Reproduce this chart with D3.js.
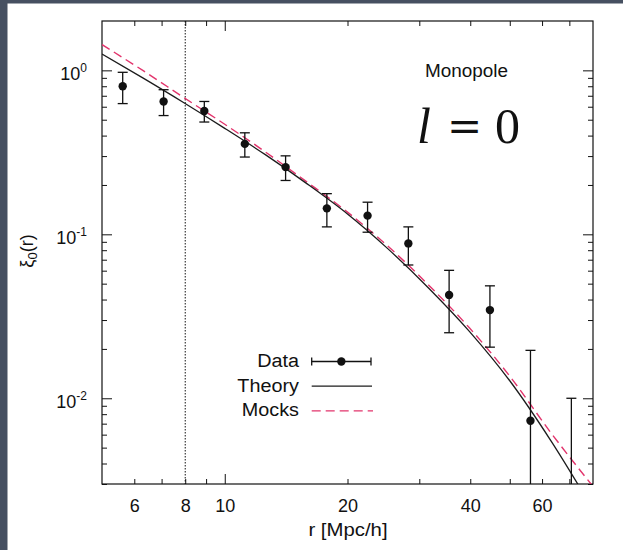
<!DOCTYPE html>
<html>
<head>
<meta charset="utf-8">
<script src="https://cdn.jsdelivr.net/npm/d3@7/dist/d3.min.js"></script>
<style>
  html, body { margin: 0; padding: 0; background: #ffffff; }
  svg { display: block; }
  text { font-family: "Liberation Sans", Arial, Helvetica, sans-serif; fill: #111; }
</style>
</head>
<body>
<svg id="chart" width="623" height="550"></svg>
<script>
// Measured monopole of the correlation function, binned in log r
const rBins   = [5.62, 7.08, 8.91, 11.2, 14.1, 17.8, 22.4, 28.2, 35.5, 44.7, 56.2, 70.8];
const xiData  = [0.80, 0.646, 0.565, 0.356, 0.257, 0.144, 0.130, 0.088, 0.0427, 0.0345, 0.0073, -0.002];
const xiSigma = [0.173, 0.116, 0.081, 0.060, 0.044, 0.033, 0.027, 0.023, 0.0176, 0.014, 0.0123, 0.012];

// Model curves sampled on a log-spaced grid in r
const rModel   = [5, 6.31, 7.94, 10, 12.6, 15.8, 20, 25.1, 31.6, 39.8, 50.1, 63.1, 80];
const xiTheory = [1.259, 0.897, 0.635, 0.443, 0.305, 0.206, 0.133, 0.0818, 0.0471, 0.0256, 0.0127, 0.0055, 0.0021];
const xiMocks  = [1.436, 0.995, 0.682, 0.469, 0.317, 0.211, 0.1365, 0.0849, 0.0491, 0.0269, 0.01355, 0.00615, 0.0029];

// Axis ticks
const xMinorTicks = [6, 7, 8, 9, 20, 30, 40, 50, 60, 70];
const xMajorTicks = [10];
const xTickLabels = [6, 8, 10, 20, 40, 60];
const yMajorTicks = [0.01, 0.1, 1];
const yMinorTicks = [0.003, 0.004, 0.005, 0.006, 0.007, 0.008, 0.009,
                     0.02, 0.03, 0.04, 0.05, 0.06, 0.07, 0.08, 0.09,
                     0.2, 0.3, 0.4, 0.5, 0.6, 0.7, 0.8, 0.9];
const rCut = 8;   // small-scale cut

const legendItems = ["Data", "Theory", "Mocks"];

const W = 623, H = 550;
const plot = { left: 102, top: 21, right: 593, bottom: 484 };

const svg = d3.select("#chart");

// slide frame
svg.append("rect").attr("x", 0).attr("y", 0).attr("width", W).attr("height", H).attr("fill", "#ffffff");
svg.append("rect").attr("x", 0).attr("y", 0).attr("width", W).attr("height", 3.5).attr("fill", "#465061");
svg.append("rect").attr("x", 0).attr("y", 0).attr("width", 7.5).attr("height", H).attr("fill", "#465061");

const x = d3.scaleLog().domain([5, 80]).range([plot.left, plot.right]);
const y = d3.scaleLog().domain([0.003, 2]).range([plot.bottom, plot.top]);

svg.append("defs").append("clipPath").attr("id", "plotClip")
  .append("rect")
  .attr("x", plot.left).attr("y", plot.top)
  .attr("width", plot.right - plot.left).attr("height", plot.bottom - plot.top);

function stretch(sel, k) {
  sel.each(function () {
    const w = this.getComputedTextLength();
    d3.select(this).attr("textLength", w * k).attr("lengthAdjust", "spacingAndGlyphs");
  });
}

function cleanAxis(g) {
  g.select(".domain").remove();
  g.selectAll(".tick line").attr("stroke", "#111").attr("stroke-width", 1);
}

// inward ticks on all four sides
function tickAxis(axisFn, scale, values, size, transform) {
  svg.append("g").attr("transform", transform)
    .call(axisFn(scale).tickValues(values).tickSize(-size).tickFormat(""))
    .call(cleanAxis);
}
tickAxis(d3.axisBottom, x, xMinorTicks, 5, `translate(0,${plot.bottom})`);
tickAxis(d3.axisBottom, x, xMajorTicks, 10, `translate(0,${plot.bottom})`);
tickAxis(d3.axisTop, x, xMinorTicks, 5, `translate(0,${plot.top})`);
tickAxis(d3.axisTop, x, xMajorTicks, 10, `translate(0,${plot.top})`);
tickAxis(d3.axisLeft, y, yMinorTicks, 5, `translate(${plot.left},0)`);
tickAxis(d3.axisLeft, y, yMajorTicks, 10, `translate(${plot.left},0)`);
tickAxis(d3.axisRight, y, yMinorTicks, 5, `translate(${plot.right},0)`);
tickAxis(d3.axisRight, y, yMajorTicks, 10, `translate(${plot.right},0)`);

// x tick labels
const gxl = svg.append("g").attr("transform", `translate(0,${plot.bottom})`)
  .call(d3.axisBottom(x).tickValues(xTickLabels).tickSize(0).tickPadding(15).tickFormat(d3.format("d")));
gxl.select(".domain").remove();
gxl.selectAll("text").attr("font-size", 18).attr("fill", "#111")
  .style("font-family", '"Liberation Sans", Arial, sans-serif');

// y tick labels as powers of ten
const gyl = svg.append("g").attr("transform", `translate(${plot.left},0)`)
  .call(d3.axisLeft(y).tickValues(yMajorTicks).tickSize(0).tickPadding(15).tickFormat(""));
gyl.select(".domain").remove();
gyl.selectAll(".tick text").each(function (d) {
  const t = d3.select(this)
    .attr("dy", "0.5em").attr("font-size", 18).attr("fill", "#111")
    .style("font-family", '"Liberation Sans", Arial, sans-serif');
  t.append("tspan").text("10");
  t.append("tspan").attr("font-size", 12).attr("dy", -8).text(String(Math.round(Math.log10(d))));
});

// plot frame
svg.append("rect")
  .attr("x", plot.left).attr("y", plot.top)
  .attr("width", plot.right - plot.left).attr("height", plot.bottom - plot.top)
  .attr("fill", "none").attr("stroke", "#111").attr("stroke-width", 1.2);

const inner = svg.append("g").attr("clip-path", "url(#plotClip)");

// small-scale cut
inner.append("line")
  .attr("x1", x(rCut)).attr("x2", x(rCut))
  .attr("y1", plot.top).attr("y2", plot.bottom)
  .attr("stroke", "#111").attr("stroke-width", 1).attr("stroke-dasharray", "1.5,1.5");

// model curves
const line = d3.line().x(d => x(d[0])).y(d => y(d[1])).curve(d3.curveMonotoneX);
inner.append("path")
  .datum(rModel.map((r, i) => [r, xiMocks[i]]))
  .attr("d", line).attr("fill", "none")
  .attr("stroke", "#e2346c").attr("stroke-width", 1.4).attr("stroke-dasharray", "9,5");
inner.append("path")
  .datum(rModel.map((r, i) => [r, xiTheory[i]]))
  .attr("d", line).attr("fill", "none")
  .attr("stroke", "#1c1c1c").attr("stroke-width", 1.3);

// data points with error bars
const yMin = y.domain()[0];
const pts = rBins.map((r, i) => ({ r, v: xiData[i], s: xiSigma[i] }));
const eb = inner.append("g").selectAll("g").data(pts).join("g");
const yLo = d => (d.v - d.s > yMin ? y(d.v - d.s) : plot.bottom);
const yHi = d => y(d.v + d.s);
eb.append("line")
  .attr("x1", d => x(d.r)).attr("x2", d => x(d.r))
  .attr("y1", yLo).attr("y2", yHi)
  .attr("stroke", "#111").attr("stroke-width", 1.3);
eb.append("line")
  .attr("x1", d => x(d.r) - 5).attr("x2", d => x(d.r) + 5)
  .attr("y1", yHi).attr("y2", yHi)
  .attr("stroke", "#111").attr("stroke-width", 1.3);
eb.filter(d => d.v - d.s > yMin).append("line")
  .attr("x1", d => x(d.r) - 5).attr("x2", d => x(d.r) + 5)
  .attr("y1", yLo).attr("y2", yLo)
  .attr("stroke", "#111").attr("stroke-width", 1.3);
eb.filter(d => d.v > yMin).append("circle")
  .attr("cx", d => x(d.r)).attr("cy", d => y(d.v)).attr("r", 4.2)
  .attr("fill", "#111");

// legend
const leg = svg.append("g");
const legBase = [367, 391.7, 416.4];
const legX0 = 311.7, legX1 = 371;
leg.selectAll("text.lab").data(legendItems).join("text")
  .attr("class", "lab")
  .attr("x", 299).attr("y", (d, i) => legBase[i])
  .attr("text-anchor", "end").attr("font-size", 18).attr("fill", "#111")
  .text(d => d)
  .call(stretch, 1.1);
const ly = i => legBase[i] - 5.5;
leg.append("line").attr("x1", legX0).attr("x2", legX1).attr("y1", ly(0)).attr("y2", ly(0))
  .attr("stroke", "#111").attr("stroke-width", 1.3);
[legX0, legX1].forEach(xx => leg.append("line")
  .attr("x1", xx).attr("x2", xx).attr("y1", ly(0) - 4).attr("y2", ly(0) + 4)
  .attr("stroke", "#111").attr("stroke-width", 1.3));
leg.append("circle").attr("cx", (legX0 + legX1) / 2).attr("cy", ly(0)).attr("r", 4.2).attr("fill", "#111");
leg.append("line").attr("x1", legX0).attr("x2", legX1 + 1).attr("y1", ly(1)).attr("y2", ly(1))
  .attr("stroke", "#1c1c1c").attr("stroke-width", 1.3);
leg.append("line").attr("x1", legX0).attr("x2", legX1 + 2).attr("y1", ly(2)).attr("y2", ly(2))
  .attr("stroke", "#e2346c").attr("stroke-width", 1.4).attr("stroke-dasharray", "9,5");

// annotations
svg.append("text").attr("x", 425).attr("y", 76.5).attr("font-size", 18).attr("fill", "#1a1a1a")
  .text("Monopole").call(stretch, 1.05);

const eq = svg.append("text").attr("y", 143).attr("font-size", 50)
  .style("font-family", '"Liberation Serif", "Times New Roman", serif').attr("fill", "#000");
eq.append("tspan").attr("x", 417).attr("font-style", "italic").text("l");
eq.append("tspan").attr("x", 447).attr("dy", -2).style("font-family", '"DejaVu Serif", serif')
  .attr("font-size", 42).text("=");
eq.append("tspan").attr("x", 495).attr("dy", 2).text("0");

// axis titles
svg.append("text").attr("x", 348).attr("y", 536).attr("text-anchor", "middle")
  .attr("font-size", 19).attr("fill", "#111").text("r [Mpc/h]").call(stretch, 1.07);

const yt = svg.append("text").attr("transform", "translate(33,251) rotate(-90)")
  .attr("text-anchor", "middle").attr("font-size", 18).attr("fill", "#111");
yt.append("tspan").text("ξ");
yt.append("tspan").attr("font-size", 13).attr("dy", 4).text("0");
yt.append("tspan").attr("dy", -4).text("(r)");
</script>
</body>
</html>
